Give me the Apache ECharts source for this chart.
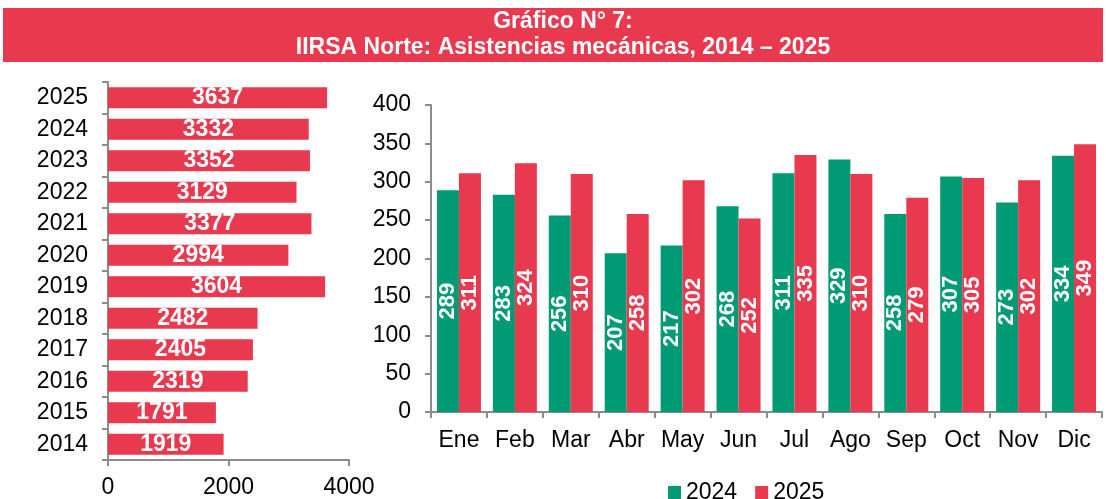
<!DOCTYPE html>
<html>
<head>
<meta charset="utf-8">
<script src="https://cdn.jsdelivr.net/npm/echarts@6/dist/echarts.min.js"></script>
<style>
  html, body { margin: 0; padding: 0; background: #fff; }
  #ec { width: 1106px; height: 499px; }
</style>
</head>
<body>
<div id="ec"></div>
<script>
// annual totals
var years = ['2014', '2015', '2016', '2017', '2018', '2019', '2020', '2021', '2022', '2023', '2024', '2025']
var totals = [1919, 1791, 2319, 2405, 2482, 3604, 2994, 3377, 3129, 3352, 3332, 3637]

// monthly
var months = ['Ene', 'Feb', 'Mar', 'Abr', 'May', 'Jun', 'Jul', 'Ago', 'Sep', 'Oct', 'Nov', 'Dic']
var data2024 = [289, 283, 256, 207, 217, 268, 311, 329, 258, 307, 273, 334]
var data2025 = [311, 324, 310, 258, 302, 252, 335, 310, 279, 305, 302, 349]

var RED = '#E9394F'
var GREEN = '#009B74'
var AXIS = '#8c8c8c'
var FONT = 'Liberation Sans, Arial, sans-serif'

var chart = echarts.init(document.getElementById('ec'))
chart.setOption({
  animation: false,
  textStyle: { fontFamily: FONT },
  graphic: [
    {
      type: 'rect',
      shape: { x: 3, y: 8, width: 1100, height: 54 },
      style: { fill: RED },
      z: 0
    },
    {
      type: 'text',
      x: 563, y: 22,
      style: {
        text: 'Gráfico N° 7:',
        fill: '#fff', font: 'bold 23px ' + FONT,
        align: 'center', verticalAlign: 'middle'
      }
    },
    {
      type: 'text',
      x: 563, y: 48,
      style: {
        text: 'IIRSA Norte: Asistencias mecánicas, 2014 – 2025',
        fill: '#fff', font: 'bold 23px ' + FONT,
        align: 'center', verticalAlign: 'middle'
      }
    }
  ],
  legend: {
    data: ['2024', '2025'],
    left: 663,
    top: 476,
    icon: 'rect',
    itemWidth: 13,
    itemHeight: 13,
    itemGap: 18,
    textStyle: { fontSize: 23, color: '#000', fontFamily: FONT }
  },
  grid: [
    { left: 108, right: 757, top: 82, bottom: 38 },
    { left: 431, right: 4, top: 105, bottom: 87 }
  ],
  xAxis: [
    {
      gridIndex: 0,
      type: 'value',
      min: 0, max: 4000, interval: 2000,
      axisLine: { show: true, lineStyle: { color: AXIS, width: 2 } },
      axisTick: { show: true, length: 6, lineStyle: { color: AXIS, width: 2 } },
      splitLine: { show: false },
      axisLabel: { fontSize: 23, color: '#000', margin: 16, formatter: function (v) { return String(v) } }
    },
    {
      gridIndex: 1,
      type: 'category',
      data: months,
      axisLine: { lineStyle: { color: AXIS, width: 2 } },
      axisTick: { show: true, length: 6, lineStyle: { color: AXIS, width: 2 } },
      axisLabel: { fontSize: 23, color: '#000', margin: 17, interval: 0 }
    }
  ],
  yAxis: [
    {
      gridIndex: 0,
      type: 'category',
      data: years,
      axisLine: { lineStyle: { color: AXIS, width: 2 } },
      axisTick: { show: true, length: 6, lineStyle: { color: AXIS, width: 2 } },
      axisLabel: { fontSize: 23, color: '#000', margin: 20 }
    },
    {
      gridIndex: 1,
      type: 'value',
      min: 0, max: 400, interval: 50,
      axisLine: { show: true, lineStyle: { color: AXIS, width: 2 } },
      axisTick: { show: true, length: 6, lineStyle: { color: AXIS, width: 2 } },
      splitLine: { show: false },
      axisLabel: { fontSize: 23, color: '#000', margin: 20 }
    }
  ],
  series: [
    {
      name: 'Total',
      type: 'bar',
      xAxisIndex: 0,
      yAxisIndex: 0,
      data: totals,
      barCategoryGap: '34%',
      itemStyle: { color: RED },
      label: {
        show: true,
        position: 'inside',
        color: '#fff',
        fontSize: 23,
        fontWeight: 'bold',
        fontFamily: FONT
      }
    },
    {
      name: '2024',
      type: 'bar',
      xAxisIndex: 1,
      yAxisIndex: 1,
      data: data2024,
      barWidth: 22,
      barGap: '0%',
      itemStyle: { color: GREEN },
      label: {
        show: true,
        position: 'inside',
        rotate: 90,
        color: '#fff',
        fontSize: 22,
        fontWeight: 'bold',
        fontFamily: FONT
      }
    },
    {
      name: '2025',
      type: 'bar',
      xAxisIndex: 1,
      yAxisIndex: 1,
      data: data2025,
      barWidth: 22,
      barGap: '0%',
      itemStyle: { color: RED },
      label: {
        show: true,
        position: 'inside',
        rotate: 90,
        color: '#fff',
        fontSize: 22,
        fontWeight: 'bold',
        fontFamily: FONT
      }
    }
  ]
})
</script>
</body>
</html>
